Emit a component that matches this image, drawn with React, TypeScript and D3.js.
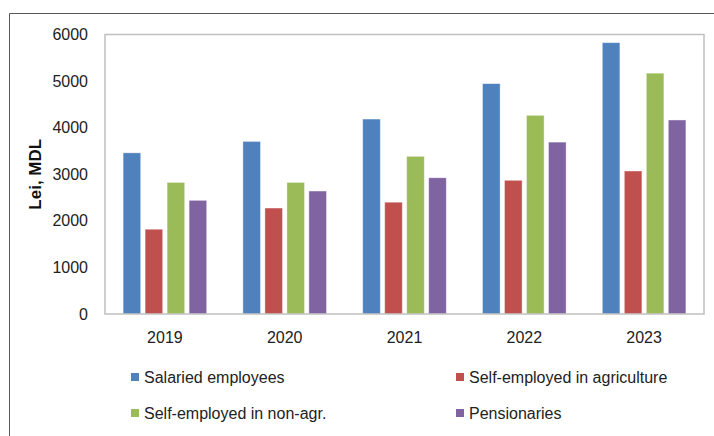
import React from "react";
import * as d3 from "d3";

const years = ["2019", "2020", "2021", "2022", "2023"];
const seriesNames = [
  "Salaried employees",
  "Self-employed in agriculture",
  "Self-employed in non-agr.",
  "Pensionaries",
];
const salaried = [3460, 3705, 4185, 4945, 5825];
const agriculture = [1820, 2275, 2400, 2870, 3070];
const nonAgr = [2825, 2825, 3385, 4265, 5170];
const pensionaries = [2440, 2640, 2925, 3690, 4165];
const yTicks = [0, 1000, 2000, 3000, 4000, 5000, 6000];
const colors = ["#4F81BD", "#C0504D", "#9BBB59", "#8064A2"];

const seriesValues = [salaried, agriculture, nonAgr, pensionaries];

export default function App() {
  const W = 714;
  const H = 436;
  const plot = { left: 105, top: 34.5, right: 704, bottom: 314 };
  const font = "'Liberation Sans', Arial, sans-serif";

  const x0 = d3.scaleBand<string>().domain(years).range([plot.left, plot.right]).padding(0);
  const bw = x0.bandwidth();
  const groupW = 88;
  const x1 = d3
    .scaleBand<string>()
    .domain(seriesNames)
    .range([(bw - groupW) / 2, (bw + groupW) / 2])
    .paddingInner(0.2)
    .paddingOuter(0.1);
  const y = d3.scaleLinear().domain([0, 6000]).range([plot.bottom, plot.top]);

  const legendItems = [
    { i: 0, x: 131, y: 377 },
    { i: 1, x: 456, y: 377 },
    { i: 2, x: 131, y: 413 },
    { i: 3, x: 456, y: 413 },
  ];

  return (
    <svg
      width={W}
      height={H}
      style={{ position: "absolute", left: 0, top: 0, background: "#fff" }}
      fontFamily={font}
    >
      <rect x={0} y={0} width={W} height={H} fill="#fff" />
      <path d={`M9.5,${H} L9.5,13.5 L${W},13.5`} fill="none" stroke="#595959" strokeWidth={1} />

      {/* bars */}
      {years.map((yr, yi) => (
        <g key={yr} transform={`translate(${x0(yr)},0)`}>
          {seriesNames.map((s, si) => {
            const v = seriesValues[si][yi];
            return (
              <rect
                key={s}
                x={x1(s)}
                y={y(v)}
                width={x1.bandwidth()}
                height={y(0) - y(v)}
                fill={colors[si]}
                stroke="#ffffff"
                strokeOpacity={0.5}
                strokeWidth={0.8}
              />
            );
          })}
        </g>
      ))}

      {/* plot border */}
      <rect
        x={plot.left}
        y={plot.top}
        width={plot.right - plot.left}
        height={plot.bottom - plot.top}
        fill="none"
        stroke="#C0C0C0"
        strokeWidth={1.5}
      />

      {/* y tick labels */}
      {yTicks.map((t) => (
        <text
          key={t}
          x={88}
          y={y(t)}
          textAnchor="end"
          dominantBaseline="central"
          fontSize={16}
          fill="#222"
        >
          {t}
        </text>
      ))}

      {/* x labels */}
      {years.map((yr) => (
        <text
          key={yr}
          x={(x0(yr) as number) + bw / 2}
          y={337}
          textAnchor="middle"
          dominantBaseline="central"
          fontSize={16}
          fill="#222"
        >
          {yr}
        </text>
      ))}

      {/* y axis title */}
      <text
        transform={`translate(35,${(plot.top + plot.bottom) / 2}) rotate(-90)`}
        textAnchor="middle"
        dominantBaseline="central"
        fontSize={17}
        fontWeight="bold"
        fill="#111"
      >
        Lei, MDL
      </text>

      {/* legend */}
      {legendItems.map((it) => (
        <g key={it.i}>
          <rect x={it.x} y={it.y - 4} width={8} height={8} fill={colors[it.i]} />
          <text
            x={it.x + 13}
            y={it.y}
            dominantBaseline="central"
            fontSize={16}
            fill="#222"
          >
            {seriesNames[it.i]}
          </text>
        </g>
      ))}
    </svg>
  );
}
